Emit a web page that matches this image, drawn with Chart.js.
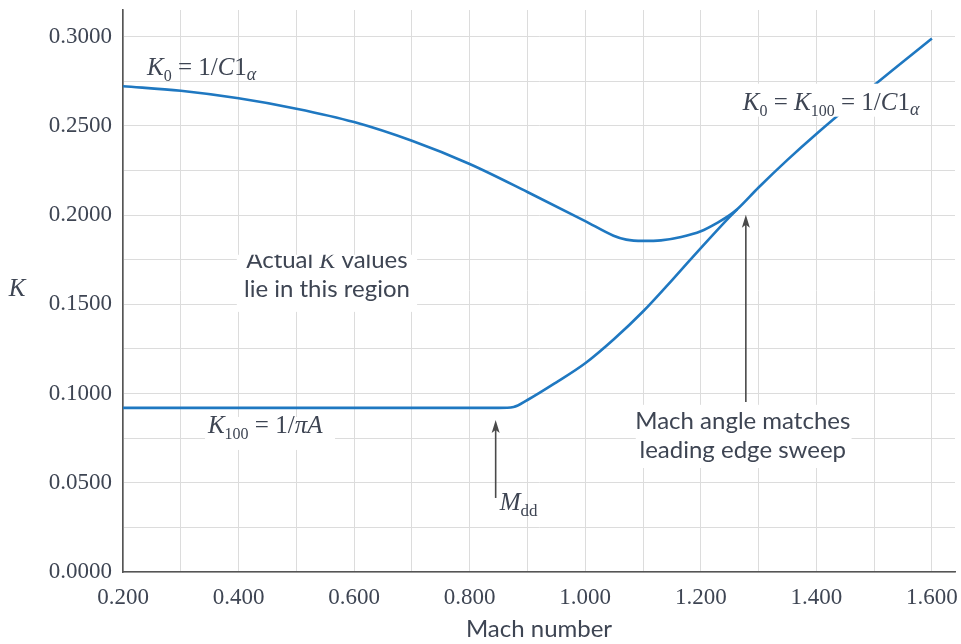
<!DOCTYPE html>
<html>
<head>
<meta charset="utf-8">
<script src="https://cdn.jsdelivr.net/npm/chart.js@4.4.1/dist/chart.umd.min.js"></script>
<style>
  html, body { margin: 0; padding: 0; background: #ffffff; }
  #wrap { width: 961px; height: 644px; }
</style>
</head>
<body>
<div id="wrap"><canvas id="c" width="961" height="644"></canvas></div>
<script>
// ---- data ----
const upperMach = [0.20, 0.30, 0.40, 0.50, 0.60, 0.70, 0.80, 0.90, 1.00, 1.049, 1.071, 1.10, 1.131, 1.166, 1.20, 1.23, 1.25, 1.263, 1.30, 1.35, 1.40, 1.50, 1.60];
const upperK    = [0.2723, 0.2697, 0.2655, 0.2597, 0.2522, 0.2417, 0.2287, 0.2130, 0.1967, 0.1885, 0.1863, 0.1856, 0.1859, 0.1878, 0.1910, 0.1960, 0.2000, 0.2033, 0.2155, 0.2310, 0.2455, 0.2728, 0.2990];
const lowerMach = [0.20, 0.40, 0.60, 0.80, 0.85, 0.876, 0.90, 0.95, 1.00, 1.05, 1.10, 1.15, 1.20, 1.25, 1.263];
const lowerK    = [0.0920, 0.0920, 0.0920, 0.0920, 0.0920, 0.0925, 0.0964, 0.1063, 0.1170, 0.1306, 0.1460, 0.1635, 0.1815, 0.1990, 0.2033];
const xTickLabels = ['0.200', '0.400', '0.600', '0.800', '1.000', '1.200', '1.400', '1.600'];
const yTickLabels = ['0.0000', '0.0500', '0.1000', '0.1500', '0.2000', '0.2500', '0.3000'];
const xTitle = 'Mach number';
const yTitle = 'K';

const LINE = '#1f78c1';
const TXT = '#3e4553';
const SERIF = '"Liberation Serif", "DejaVu Serif", serif';
const SANS = 'Lato, "Open Sans", sans-serif';

function toXY(xs, ys) { return xs.map((x, i) => ({ x: x, y: ys[i] })); }

function drawRuns(ctx, runs, x, y, align) {
  let total = 0;
  runs.forEach(r => { ctx.font = r.f; total += ctx.measureText(r.t).width; });
  let cx = align === 'center' ? x - total / 2 : x;
  ctx.textAlign = 'left';
  ctx.textBaseline = 'alphabetic';
  runs.forEach(r => {
    ctx.font = r.f;
    ctx.fillText(r.t, cx, y + (r.dy || 0));
    cx += ctx.measureText(r.t).width;
  });
}

const annot = {
  id: 'annot',
  afterDatasetsDraw(chart) {
    const ctx = chart.ctx;
    const xs = chart.scales.x, ys = chart.scales.y;
    const X = v => xs.getPixelForValue(v), Y = v => ys.getPixelForValue(v);
    const it = 'italic 25px ' + SERIF, rg = '25px ' + SERIF, sb = '16px ' + SERIF, sbi = 'italic 18px ' + SERIF;
    ctx.save();
    ctx.fillStyle = TXT;

    // K0 = 1/C1alpha (top left)
    drawRuns(ctx, [
      { t: 'K', f: it }, { t: '0', f: sb, dy: 6 }, { t: ' = 1/', f: rg },
      { t: 'C', f: it }, { t: '1', f: rg }, { t: 'α', f: sbi, dy: 5 }
    ], X(0.2415), Y(0.2787), 'left');

    // Actual K values box (clipped at top)
    {
      const x0 = X(0.397), x1 = X(0.709), y0 = Y(0.1778), y1 = Y(0.1458);
      ctx.save();
      ctx.fillStyle = '#ffffff';
      ctx.fillRect(x0, y0, x1 - x0, y1 - y0);
      ctx.beginPath(); ctx.rect(x0, y0, x1 - x0, y1 - y0); ctx.clip();
      ctx.fillStyle = TXT;
      const f = '24px ' + SANS, fi = 'italic 24px ' + SERIF;
      drawRuns(ctx, [{ t: 'Actual ', f: f }, { t: 'K', f: fi }, { t: ' values', f: f }], X(0.553), Y(0.1705), 'center');
      drawRuns(ctx, [{ t: 'lie in this region', f: f }], X(0.553), Y(0.1542), 'center');
      ctx.restore();
    }

    // K100 = 1/piA
    {
      const x0 = X(0.342), x1 = X(0.567), y0 = Y(0.0869), y1 = Y(0.0684);
      ctx.fillStyle = '#ffffff';
      ctx.fillRect(x0, y0, x1 - x0, y1 - y0);
      ctx.fillStyle = TXT;
      drawRuns(ctx, [
        { t: 'K', f: it }, { t: '100', f: sb, dy: 6 }, { t: ' = 1/', f: rg }, { t: 'πA', f: it }
      ], X(0.347), Y(0.078), 'left');
    }

    // K0 = K100 = 1/C1alpha (right)
    {
      const x0 = X(1.269), x1 = X(1.598), y0 = Y(0.2737), y1 = Y(0.2552);
      ctx.fillStyle = '#ffffff';
      ctx.fillRect(x0, y0, x1 - x0, y1 - y0);
      ctx.fillStyle = TXT;
      drawRuns(ctx, [
        { t: 'K', f: it }, { t: '0', f: sb, dy: 6 }, { t: ' = ', f: rg },
        { t: 'K', f: it }, { t: '100', f: sb, dy: 6 }, { t: ' = 1/', f: rg },
        { t: 'C', f: it }, { t: '1', f: rg }, { t: 'α', f: sbi, dy: 5 }
      ], X(1.2727), Y(0.2591), 'left');
    }

    // Mach angle matches box
    {
      const x0 = X(1.0875), x1 = X(1.461), y0 = Y(0.0937), y1 = Y(0.0583);
      ctx.fillStyle = '#ffffff';
      ctx.fillRect(x0, y0, x1 - x0, y1 - y0);
      ctx.fillStyle = TXT;
      const f = '24px ' + SANS;
      drawRuns(ctx, [{ t: 'Mach angle matches', f: f }], X(1.2727), Y(0.0802), 'center');
      drawRuns(ctx, [{ t: 'leading edge sweep', f: f }], X(1.2727), Y(0.0639), 'center');
    }

    // arrows
    function arrow(mx, kTip, kBot) {
      const x = X(mx), yt = Y(kTip), yb = Y(kBot);
      ctx.strokeStyle = '#4a4a4a';
      ctx.fillStyle = '#4a4a4a';
      ctx.lineWidth = 1.6;
      ctx.beginPath(); ctx.moveTo(x, yb); ctx.lineTo(x, yt + 8); ctx.stroke();
      ctx.beginPath(); ctx.moveTo(x, yt); ctx.lineTo(x - 4, yt + 13); ctx.lineTo(x, yt + 10); ctx.lineTo(x + 4, yt + 13); ctx.closePath(); ctx.fill();
    }
    arrow(0.845, 0.0852, 0.0415);
    arrow(1.278, 0.2002, 0.0953);

    // M_dd
    ctx.fillStyle = TXT;
    drawRuns(ctx, [{ t: 'M', f: it }, { t: 'dd', f: '17px ' + SERIF, dy: 6 }], X(0.852), Y(0.0348), 'left');

    // y-axis title
    ctx.font = 'italic 25px ' + SERIF;
    ctx.textAlign = 'center';
    ctx.textBaseline = 'middle';
    ctx.fillText(yTitle, 17, 289);
    ctx.restore();
  }
};

new Chart(document.getElementById('c'), {
  type: 'line',
  data: {
    datasets: [
      { data: toXY(upperMach, upperK), borderColor: LINE, borderWidth: 2.6, pointRadius: 0, cubicInterpolationMode: 'monotone', fill: false },
      { data: toXY(lowerMach, lowerK), borderColor: LINE, borderWidth: 2.6, pointRadius: 0, cubicInterpolationMode: 'monotone', fill: false }
    ]
  },
  options: {
    responsive: false,
    animation: false,
    devicePixelRatio: 1,
    layout: { padding: { top: 10, right: 6, left: 0, bottom: 0 } },
    plugins: { legend: { display: false }, tooltip: { enabled: false } },
    scales: {
      x: {
        type: 'linear', min: 0.2, max: 1.64,
        afterFit(s) { s.height = 72; s.paddingLeft = 0; s.paddingRight = 0; },
        border: { color: '#555555', width: 1.6 },
        grid: { color: '#dcdcdc', lineWidth: 1, drawTicks: false, tickLength: 0 },
        ticks: {
          stepSize: 0.1, includeBounds: false, autoSkip: false, maxRotation: 0, padding: 12,
          color: TXT, font: { family: '"Liberation Serif"', size: 23 },
          callback(v) { const s = Number(v).toFixed(3); return xTickLabels.includes(s) ? s : ''; }
        },
        title: { display: true, text: xTitle, color: TXT, font: { family: 'Lato', size: 24 }, padding: { top: 0, bottom: 0 } }
      },
      y: {
        type: 'linear', min: 0, max: 0.315,
        afterFit(s) { s.width = 123; s.paddingTop = 0; s.paddingBottom = 0; },
        border: { color: '#555555', width: 1.6 },
        grid: { color: '#dcdcdc', lineWidth: 1, drawTicks: false, tickLength: 0 },
        ticks: {
          stepSize: 0.025, includeBounds: false, autoSkip: false, padding: 11,
          color: TXT, font: { family: '"Liberation Serif"', size: 23 },
          callback(v) { const s = Number(v).toFixed(4); return yTickLabels.includes(s) ? s : ''; }
        }
      }
    }
  },
  plugins: [annot]
});
</script>
</body>
</html>
